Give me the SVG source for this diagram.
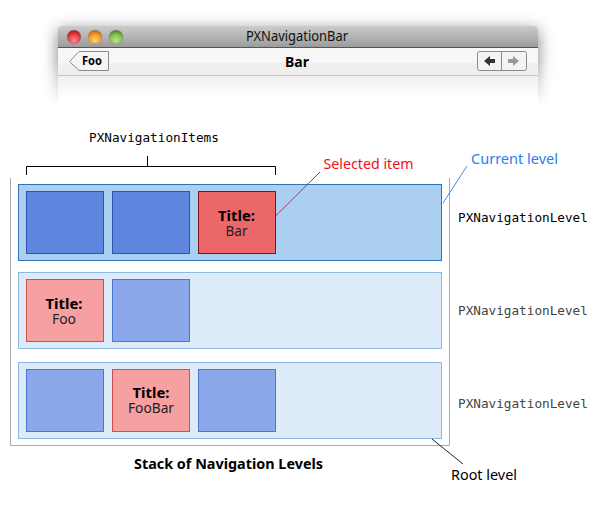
<svg xmlns="http://www.w3.org/2000/svg" width="600" height="509" viewBox="0 0 600 509">
<style>
text{font-family:"Noto Sans","DejaVu Sans",sans-serif;text-anchor:middle;fill:#000}
.m{font-family:"DejaVu Sans Mono","Liberation Mono",monospace;font-size:12.700px;text-anchor:start}
.dim{fill:#444}
.lab{font-size:14px}
.t{font-size:14px;font-weight:bold}
.s{font-size:14px;fill:#222}
.lv{fill:#ddebf9;stroke:#8db8e2;stroke-width:1}
.lv1{fill:#abcff1;stroke:#2e72b8;stroke-width:1}
.b1{fill:#5f87e0;stroke:#2a57ad}
.b2{fill:#8ba8ea;stroke:#4a76d4}
.r1{fill:#ec6768;stroke:#7f1416}
.r2{fill:#f6a0a2;stroke:#cf4e50}
.c{fill:none;stroke-width:1}
</style>
<defs>
<linearGradient id="tb" x1="0" y1="0" x2="0" y2="1"><stop offset="0" stop-color="#cccccc"/><stop offset="1" stop-color="#9c9c9c"/></linearGradient>
<linearGradient id="bd" x1="0" y1="0" x2="0" y2="1"><stop offset="0" stop-color="#f0f0f0"/><stop offset="1" stop-color="#fff"/></linearGradient>
<linearGradient id="fade" gradientUnits="userSpaceOnUse" x1="0" y1="60" x2="0" y2="106"><stop offset="0" stop-color="#fff"/><stop offset="1" stop-color="#000"/></linearGradient>
<mask id="fm" maskUnits="userSpaceOnUse" x="0" y="0" width="600" height="110"><rect x="0" y="0" width="600" height="110" fill="url(#fade)"/></mask>
<filter id="bl" x="-10%" y="-30%" width="120%" height="160%"><feGaussianBlur stdDeviation="8"/></filter>
<radialGradient id="red" cx=".5" cy=".75" r=".65"><stop offset="0" stop-color="#ff8f8f"/><stop offset=".7" stop-color="#e23a3e"/><stop offset="1" stop-color="#b81f24"/></radialGradient>
<radialGradient id="yel" cx=".5" cy=".75" r=".65"><stop offset="0" stop-color="#ffd36a"/><stop offset=".7" stop-color="#ee9a28"/><stop offset="1" stop-color="#c96f12"/></radialGradient>
<radialGradient id="grn" cx=".5" cy=".75" r=".65"><stop offset="0" stop-color="#bde688"/><stop offset=".7" stop-color="#83bb4c"/><stop offset="1" stop-color="#548f2c"/></radialGradient>
</defs>
<g id="window">
<g mask="url(#fm)"><rect x="58" y="30" width="480" height="80" fill="#000" fill-opacity=".5" filter="url(#bl)"/></g>
<path d="M58 110V30q0-4 4-4H534q4 0 4 4V110Z" fill="#fff"/>
<path d="M58 47V30q0-4 4-4H534q4 0 4 4V47Z" fill="url(#tb)"/>
<rect x="58" y="47" width="480" height="1" fill="#555"/>
<rect x="58" y="48" width="480" height="15" fill="#f7f7f7"/>
<rect x="58" y="63" width="480" height="12" fill="#efefef"/>
<rect x="58" y="75" width="480" height="1" fill="#c8c8c8"/>
<rect x="58" y="76" width="480" height="22" fill="url(#bd)"/>
<circle cx="74" cy="37" r="7" fill="url(#red)" stroke="#8a8a8a" stroke-width=".5"/>
<circle cx="95" cy="37" r="7" fill="url(#yel)" stroke="#8a8a8a" stroke-width=".5"/>
<circle cx="116" cy="37" r="7" fill="url(#grn)" stroke="#8a8a8a" stroke-width=".5"/>
<text x="297" y="41" font-size="13.500" style="fill:#111" textLength="102" lengthAdjust="spacingAndGlyphs">PXNavigationBar</text>
<text x="297" y="67" font-size="14" font-weight="bold" textLength="24" lengthAdjust="spacingAndGlyphs">Bar</text>
</g>
<g id="back-button">
<path d="M108.500 51.500H79L69.500 61.500L79 70.500H108.500Z" fill="#f5f5f5" stroke="#8a8a8a"/>
<text x="92" y="65" font-size="11.500" font-weight="bold" textLength="20" lengthAdjust="spacingAndGlyphs">Foo</text>
</g>
<g id="nav-buttons">
<rect x="477.500" y="51.500" width="49" height="19" rx="2" fill="#f3f3f3" stroke="#8a8a8a"/>
<path d="M501.500 51.500V70.500" stroke="#8a8a8a"/>
<path d="M484 61L490 56V59H495V63H490V66Z" fill="#333"/>
<path d="M519 61L513 56V59H508V63H513V66Z" fill="#999"/>
</g>
<g id="stack-frame"><path d="M10.500 178V445.500H449.500V178" fill="none" stroke="#aaa"/></g>
<g id="level-1">
<rect class="lv1" x="18.500" y="184.500" width="423" height="76"/>
<rect class="b1" x="26.500" y="191.500" width="77" height="62"/>
<rect class="b1" x="112.500" y="191.500" width="77" height="62"/>
</g>
<g id="selected-item">
<rect class="r1" x="198.500" y="191.500" width="77" height="62"/>
<text class="t" x="236.500" y="221" textLength="37" lengthAdjust="spacingAndGlyphs">Title:</text><text class="s" x="236.500" y="236" textLength="22" lengthAdjust="spacingAndGlyphs">Bar</text>
</g>
<g id="level-2">
<rect class="lv" x="18.500" y="272.500" width="423" height="76"/>
<rect class="r2" x="26.500" y="279.500" width="77" height="62"/>
<text class="t" x="64" y="309" textLength="37" lengthAdjust="spacingAndGlyphs">Title:</text><text class="s" x="64" y="324" textLength="24" lengthAdjust="spacingAndGlyphs">Foo</text>
<rect class="b2" x="112.500" y="279.500" width="77" height="62"/>
</g>
<g id="level-3">
<rect class="lv" x="18.500" y="362.500" width="423" height="76"/>
<rect class="b2" x="26.500" y="369.500" width="77" height="62"/>
<rect class="r2" x="112.500" y="369.500" width="77" height="62"/>
<text class="t" x="151" y="398" textLength="37" lengthAdjust="spacingAndGlyphs">Title:</text><text class="s" x="151" y="413" textLength="46" lengthAdjust="spacingAndGlyphs">FooBar</text>
<rect class="b2" x="198.500" y="369.500" width="77" height="62"/>
</g>
<g id="connectors">
<path class="c" stroke="#000" d="M26.500 175V166.500H275.500V175M147.500 166.500V156"/>
<path class="c" stroke="#f0202a" d="M276 215.500L320 172"/>
<path class="c" stroke="#3d8fef" d="M443 203L467 166"/>
<path class="c" stroke="#222" d="M432 439L463 464"/>
</g>
<g id="labels">
<text class="m" x="89" y="142">PXNavigationItems</text>
<text class="lab" x="368.500" y="169" style="fill:#f0101a" textLength="90" lengthAdjust="spacingAndGlyphs">Selected item</text>
<text class="lab" x="514.500" y="164" style="fill:#1f80f0" textLength="87" lengthAdjust="spacingAndGlyphs">Current level</text>
<text class="m" x="458" y="222">PXNavigationLevel</text>
<text class="m dim" x="458" y="315">PXNavigationLevel</text>
<text class="m dim" x="458" y="408">PXNavigationLevel</text>
<text x="228.500" y="469" font-size="14" font-weight="bold" textLength="189" lengthAdjust="spacingAndGlyphs">Stack of Navigation Levels</text>
<text class="lab" x="484" y="480" textLength="66" lengthAdjust="spacingAndGlyphs">Root level</text>
</g>
</svg>
